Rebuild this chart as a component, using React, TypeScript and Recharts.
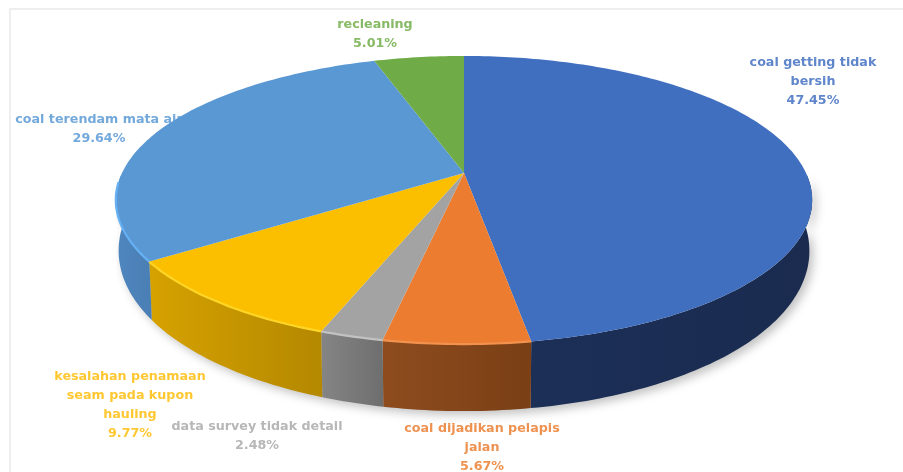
import React from 'react';
import { PieChart, Pie } from 'recharts';

const names = [
  'coal getting tidak bersih',
  'coal dijadikan pelapis jalan',
  'data survey tidak detail',
  'kesalahan penamaan seam pada kupon hauling',
  'coal terendam mata air',
  'recleaning',
];
const shares = [47.45, 5.67, 2.48, 9.77, 29.64, 5.01];
const labelLines = [
  ['coal getting tidak', 'bersih'],
  ['coal dijadikan pelapis', 'jalan'],
  ['data survey tidak detail'],
  ['kesalahan penamaan', 'seam pada kupon', 'hauling'],
  ['coal terendam mata air'],
  ['recleaning'],
];

const topColors = ['#416FBF', '#EB7C30', '#A3A3A3', '#FBBF00', '#5A98D4', '#6FAB46'];
const rimColors = ['#3A64AE', '#F2924E', '#C2C2C2', '#FFD526', '#66B0F4', '#7FBB55'];
const textColors = ['#5F86CB', '#EE9251', '#B7B7B7', '#FFC832', '#74A9DC', '#86BA64'];
const wallStops = [
  ['#1C2F57', '#1A2B4F'],
  ['#8E4C1E', '#7A3F15'],
  ['#858585', '#6E6E6E'],
  ['#D6A200', '#B48800'],
  ['#4E86BE', '#4A7FB4'],
  ['#55833A', '#55833A'],
];
// centre x and first baseline of every label
const labelAnchors = [
  [813, 66],
  [482, 432],
  [257, 430],
  [130, 380],
  [99, 123],
  [375, 28],
];

const tableData = names.map((name, i) => ({ name, value: shares[i], idx: i, fill: topColors[i] }));

// the flat look of the 3D disc: k tips the circle, the apex sits off the ellipse centre
const TILT = -0.1876;
const SQUASH = 0.4064;

const toPoint = (props: any, angle: number) => {
  const a = ((90 - angle) * Math.PI) / 180;
  const u = Math.sin(a);
  const v = -Math.cos(a);
  const w = 1 + TILT * v;
  return {
    v,
    x: props.cx + (props.outerRadius * u) / w,
    y: props.cy + (props.outerRadius * SQUASH * v) / w,
  };
};

const rimPoints = (props: any) => {
  const steps = Math.max(2, Math.ceil(Math.abs(props.startAngle - props.endAngle)));
  const out = [];
  for (let i = 0; i <= steps; i++) {
    out.push(toPoint(props, props.startAngle + ((props.endAngle - props.startAngle) * i) / steps));
  }
  return out;
};

const toBottom = (props: any, p: any) => ({
  x: props.cx + (p.x - props.cx) * 0.992,
  y: p.y + 47 + 20 * p.v,
});

const pathOf = (pts: any[]) => pts.map((p, i) => `${i ? 'L' : 'M'}${p.x.toFixed(1)} ${p.y.toFixed(1)}`).join(' ');

const LabelShape = (props: any) => {
  const [x, y] = labelAnchors[props.idx];
  const lines = [...labelLines[props.idx], `${props.value.toFixed(2)}%`];
  return (
    <text
      x={x}
      y={y}
      textAnchor="middle"
      fontFamily="'DejaVu Sans', sans-serif"
      fontWeight={700}
      fontSize={12.7}
      fill={textColors[props.idx]}
    >
      {lines.map((line, i) => (
        <tspan key={i} x={x} dy={i ? 19 : 0}>
          {line}
        </tspan>
      ))}
    </text>
  );
};

// only the front half of the disc shows its wall
const wallPath = (props: any) => {
  const top = rimPoints(props).filter(p => p.v > 0);
  if (top.length < 2) return null;
  const bottom = top.map(p => toBottom(props, p)).reverse();
  return pathOf([...top, ...bottom]) + ' Z';
};

const ShadowShape = (props: any) => {
  const d = wallPath(props);
  if (!d) return null;
  return <path d={d} fill="#000" fillOpacity={0.24} stroke="none" transform="translate(4 4)" filter="url(#shadowBlur)" />;
};

const WallShape = (props: any) => {
  const d = wallPath(props);
  if (!d) return null;
  return <path d={d} fill={`url(#wall${props.idx})`} stroke="none" />;
};

const TopShape = (props: any) => {
  const rim = rimPoints(props);
  const apex = { x: props.cx, y: props.cy };
  const lit = rim.filter(p => p.v > 0.05);
  return (
    <g>
      <path d={pathOf([apex, ...rim]) + ' Z'} fill={props.fill} stroke="none" />
      {lit.length > 1 && props.idx !== 0 && (
        <path d={pathOf(lit)} fill="none" stroke={rimColors[props.idx]} strokeWidth={2.2} />
      )}
    </g>
  );
};

const App: React.FC = () => (
  <div style={{ position: 'absolute', left: 0, top: 0, width: 903, height: 472, background: '#fff', overflow: 'hidden' }}>
    <div
      style={{
        position: 'absolute',
        left: 9,
        top: 8,
        width: 894,
        height: 464,
        borderTop: '2px solid #EEEEEE',
        borderLeft: '2px solid #EEEEEE',
        boxSizing: 'border-box',
      }}
    />
    <div style={{ position: 'absolute', left: 0, top: 0, filter: 'blur(0.6px)' }}>
      <PieChart width={903} height={472} margin={{ top: 0, right: 0, bottom: 0, left: 0 }}>
        <defs>
          <filter id="shadowBlur" x="-10%" y="-20%" width="120%" height="150%">
            <feGaussianBlur stdDeviation="5" />
          </filter>
          {wallStops.map((stops, i) => (
            <linearGradient key={i} id={`wall${i}`} x1="0" y1="0" x2="1" y2="0">
              <stop offset="0" stopColor={stops[0]} />
              <stop offset="1" stopColor={stops[1]} />
            </linearGradient>
          ))}
        </defs>
        {[LabelShape, ShadowShape, WallShape, TopShape].map((Shape, i) => (
          <Pie
            key={i}
            data={tableData}
            dataKey="value"
            nameKey="name"
            cx={464}
            cy={173}
            outerRadius={342}
            startAngle={90}
            endAngle={-270}
            stroke="none"
            labelLine={false}
            isAnimationActive={false}
            shape={Shape}
          />
        ))}
      </PieChart>
    </div>
  </div>
);

export default App;
